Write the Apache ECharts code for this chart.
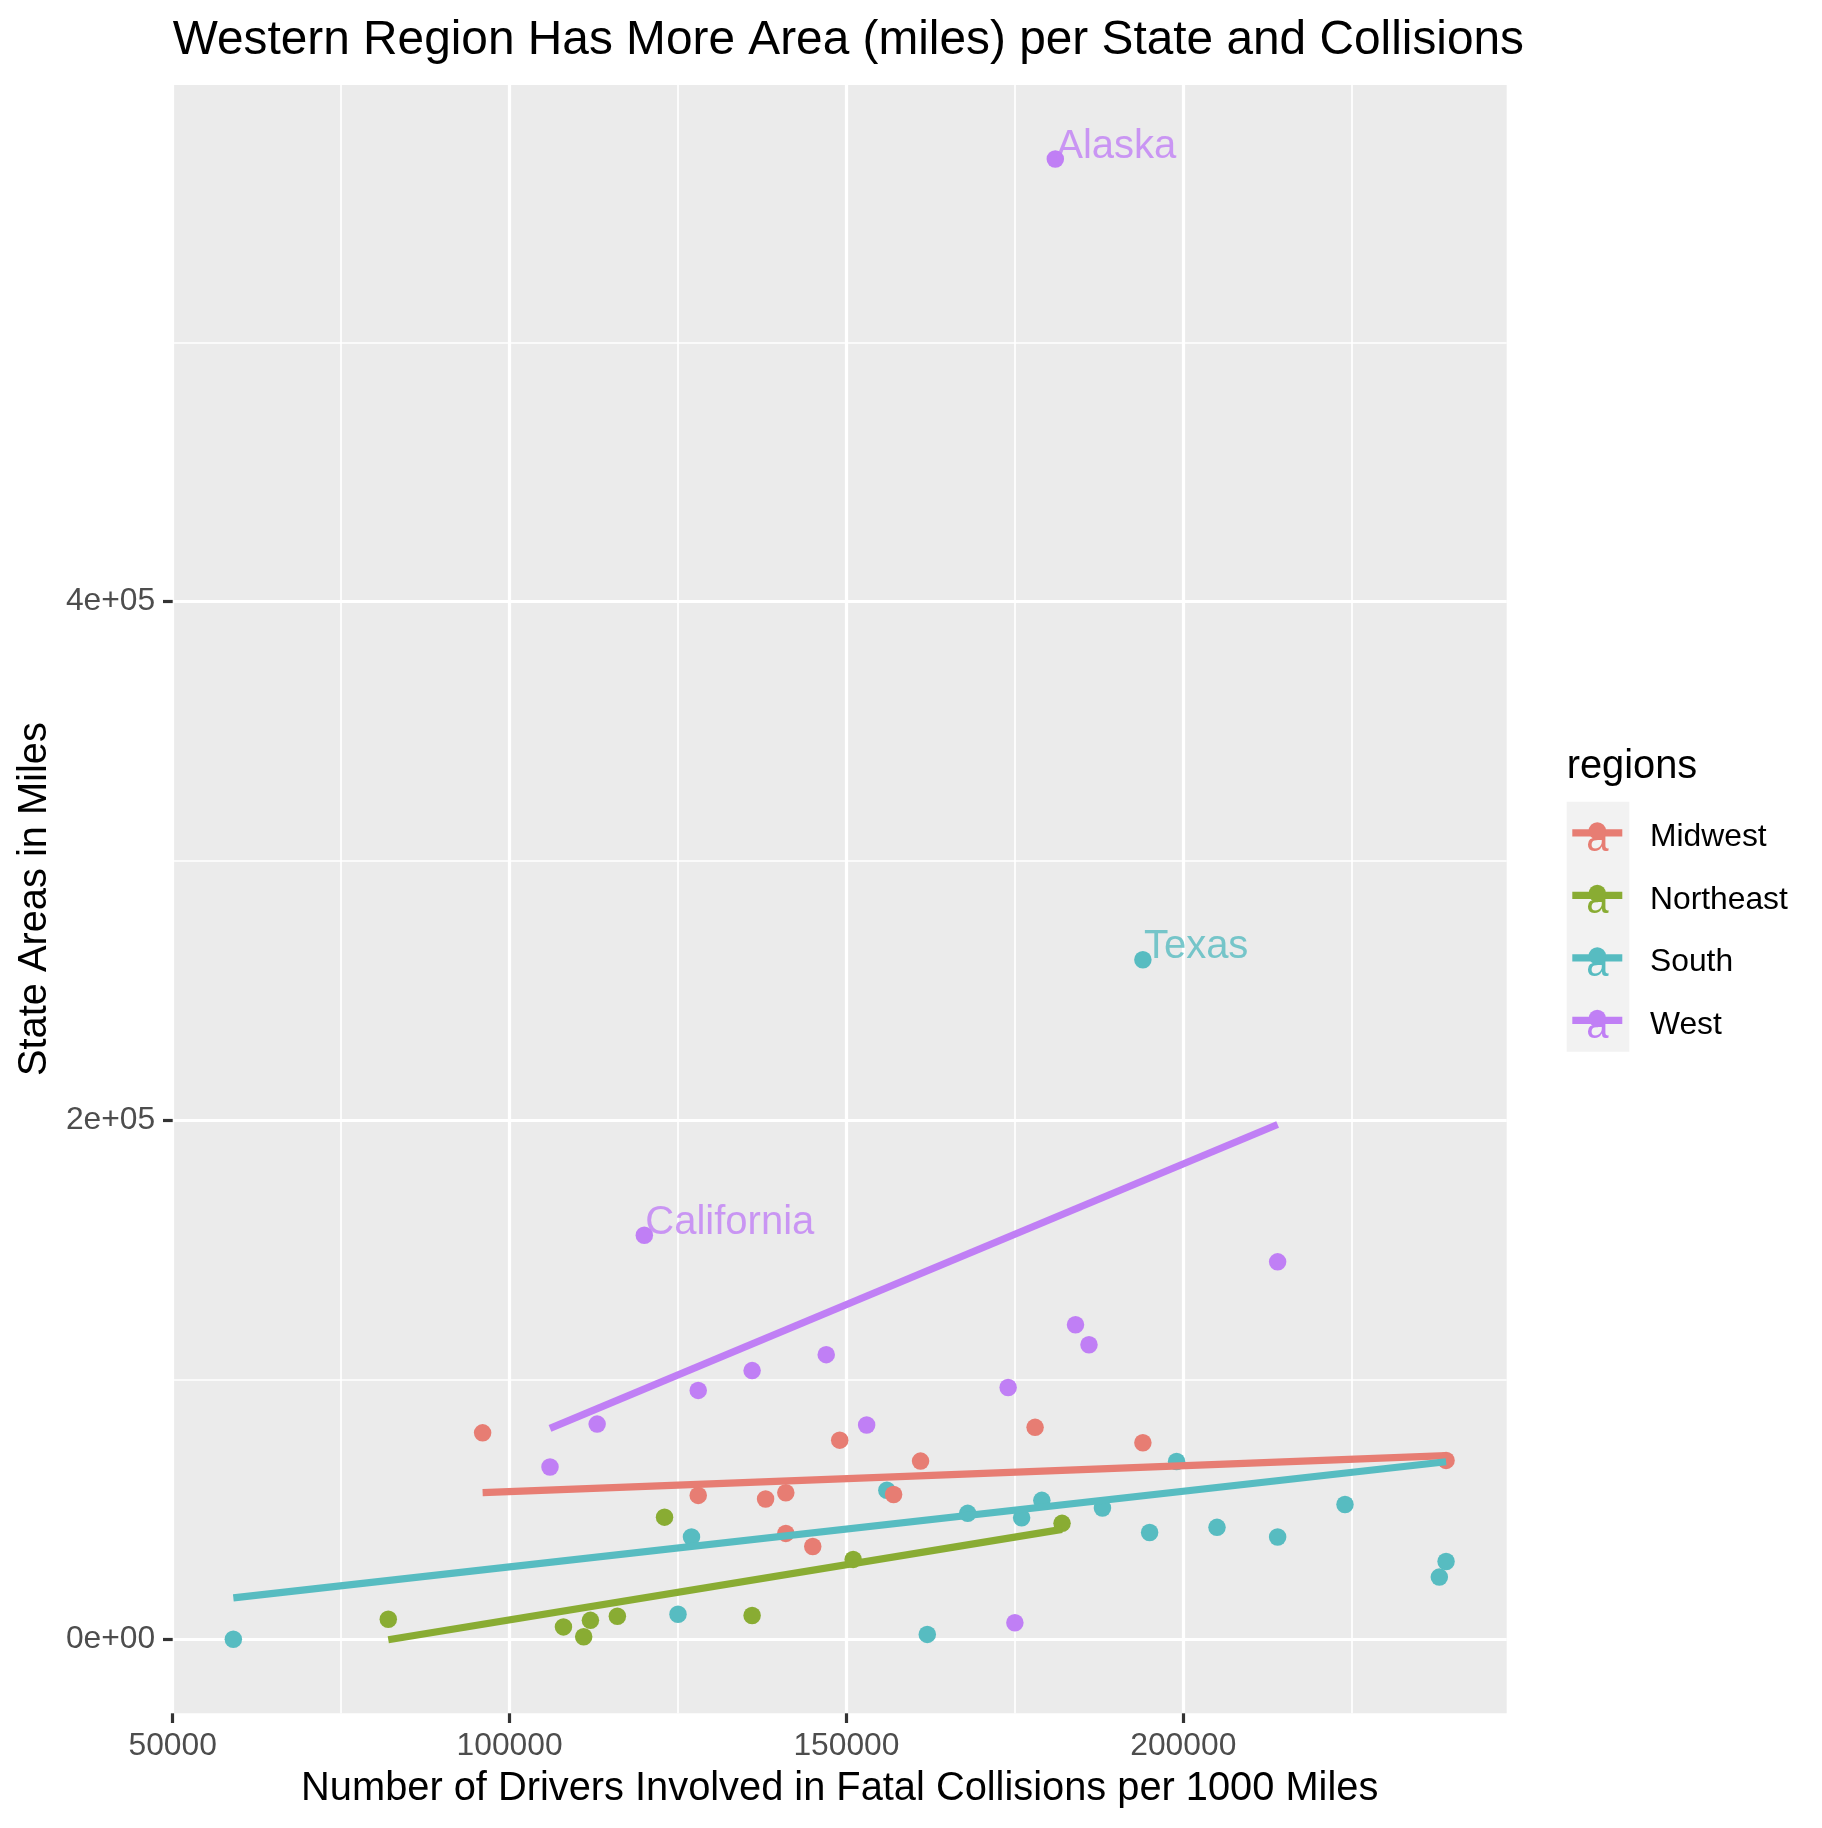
<!DOCTYPE html>
<html>
<head>
<meta charset="utf-8">
<script src="https://cdn.jsdelivr.net/npm/echarts@6.0.0/dist/echarts.min.js"></script>
<style>
html,body{margin:0;padding:0;background:#ffffff;}
#chart{width:1822px;height:1828px;}
</style>
</head>
<body>
<div id="chart"></div>
<script>
// ---------------- DATA ----------------
const states = ['Alabama','Alaska','Arizona','Arkansas','California','Colorado','Connecticut','Delaware','District of Columbia','Florida','Georgia','Hawaii','Idaho','Illinois','Indiana','Iowa','Kansas','Kentucky','Louisiana','Maine','Maryland','Massachusetts','Michigan','Minnesota','Mississippi','Missouri','Montana','Nebraska','Nevada','New Hampshire','New Jersey','New Mexico','New York','North Carolina','North Dakota','Ohio','Oklahoma','Oregon','Pennsylvania','Rhode Island','South Carolina','South Dakota','Tennessee','Texas','Utah','Vermont','Virginia','Washington','West Virginia','Wisconsin','Wyoming'];
const regions = ['South','West','West','South','West','West','Northeast','South','South','South','South','West','West','Midwest','Midwest','Midwest','Midwest','South','South','Northeast','South','Northeast','Midwest','Midwest','South','Midwest','West','Midwest','West','Northeast','Northeast','West','Northeast','South','Midwest','Midwest','South','West','Northeast','Northeast','South','Midwest','South','South','West','Northeast','South','West','South','Midwest','West'];
const drivers = [188000,181000,186000,224000,120000,136000,108000,162000,59000,179000,156000,175000,153000,128000,145000,157000,178000,214000,205000,151000,125000,82000,141000,96000,176000,161000,214000,149000,147000,116000,112000,184000,123000,168000,239000,141000,199000,128000,182000,111000,239000,194000,195000,194000,113000,136000,127000,106000,238000,138000,174000];
const areas = [50645,570641,113594,52035,155779,103642,4842,1949,61,53625,57513,6423,82643,55519,35826,55857,81759,39486,43204,30843,9707,7800,56539,79627,46923,68742,145546,76824,109781,8953,7354,121298,47126,48618,69001,40861,68595,95988,44743,1034,30061,75811,41235,262000,83000,9217,39490,66456,24038,54158,97093];

const regionNames = ['Midwest','Northeast','South','West'];
const regionColors = ['#E77D73','#89AC33','#57BCC1','#C07FF5'];

// fitted (lm) line end points
const smoothMidwest   = [[96000, 56580], [239000, 70890]];
const smoothNortheast = [[82000, -125], [182000, 42440]];
const smoothSouth     = [[59000, 16010], [239000, 68490]];
const smoothWest      = [[106000, 81360], [214000, 198500]];

const labelStates = ['Alaska','Texas','California'];

const xTickValues  = [50000,100000,150000,200000];
const xTickLabels  = ['50000','100000','150000','200000'];
const xMinorValues = [75000,125000,175000,225000];
const yTickValues  = [0,200000,400000];
const yTickLabels  = ['0e+00','2e+05','4e+05'];
const yMinorValues = [100000,300000,500000];

const xRange = [50000, 248000];
const yRange = [-28468, 599170];

const titleText  = 'Western Region Has More Area (miles) per State and Collisions';
const xTitleText = 'Number of Drivers Involved in Fatal Collisions per 1000 Miles';
const yTitleText = 'State Areas in Miles';
const legendTitle = 'regions';

// ---------------- LAYOUT ----------------
const FONT = '"Liberation Sans", Arial, Helvetica, sans-serif';
const GL = 172.7, GT = 85, GW = 1334, GH = 1628.3;
const colorOf = r => regionColors[regionNames.indexOf(r)];

const chart = echarts.init(document.getElementById('chart'), null, {width:1822, height:1828, renderer:'canvas'});

const scatterData = states.map((s, i) => ({
  name: s,
  value: [drivers[i], areas[i]],
  itemStyle: {color: colorOf(regions[i]), opacity: 1}
}));

const smoothSets = [smoothMidwest, smoothNortheast, smoothSouth, smoothWest];
const lineSeries = smoothSets.map((d, k) => ({
  type: 'line',
  name: regionNames[k],
  xAxisIndex: 0, yAxisIndex: 0,
  data: d,
  symbol: 'none',
  silent: true,
  lineStyle: {color: regionColors[k], width: 7.2, cap: 'butt'},
  z: 3
}));

const labelSeries = {
  type: 'scatter',
  xAxisIndex: 0, yAxisIndex: 0,
  silent: true,
  symbolSize: 1,
  itemStyle: {color: 'rgba(0,0,0,0)'},
  z: 4,
  data: labelStates.map(s => {
    const i = states.indexOf(s);
    return {
      name: s,
      value: [drivers[i], areas[i]],
      label: {color: colorOf(regions[i])}
    };
  }),
  label: {
    show: true,
    formatter: '{b}',
    position: [0, 0],
    align: 'left',
    verticalAlign: 'bottom',
    offset: [1.5, 8],
    fontSize: 40,
    lineHeight: 40,
    fontFamily: FONT
  }
};

// legend drawn as graphic elements
const legendGraphics = [];
legendGraphics.push({type:'text', x:1566.7, y:767.5, style:{text:legendTitle, fontSize:39.8, fontFamily:FONT, fill:'#000', align:'left', verticalAlign:'middle'}});
legendGraphics.push({type:'rect', shape:{x:1566.7, y:801.7, width:62.6, height:250}, style:{fill:'#F2F2F2'}});
regionNames.forEach((name, k) => {
  const cy = 801.7 + 62.5 * k + 31.25;
  const c = regionColors[k];
  legendGraphics.push({type:'text', x:1597.3, y:cy + 7, style:{text:'a', fontSize:40, fontFamily:FONT, fill:c, align:'center', verticalAlign:'middle'}});
  legendGraphics.push({type:'line', shape:{x1:1572.3, y1:cy, x2:1622.3, y2:cy}, style:{stroke:c, lineWidth:7.2}});
  legendGraphics.push({type:'circle', shape:{cx:1597.3, cy:cy - 2, r:8.7}, style:{fill:c}});
  legendGraphics.push({type:'text', x:1650, y:cy + 4.5, style:{text:name, fontSize:31.8, fontFamily:FONT, fill:'#000', align:'left', verticalAlign:'middle'}});
});

const option = {
  animation: false,
  backgroundColor: '#ffffff',
  grid: {left: GL, top: GT, width: GW, height: GH, show: true, backgroundColor: '#EBEBEB', borderWidth: 0, containLabel: false, outerBoundsMode: 'none'},
  xAxis: [
    {
      type: 'value', min: xRange[0], max: xRange[1], z: 1, position: 'bottom',
      axisLine: {show: false, onZero: false},
      axisTick: {show: true, length: 9.7, customValues: xTickValues, lineStyle: {color: '#333333', width: 3.2}},
      axisLabel: {show: true, customValues: xTickValues, formatter: v => xTickLabels[xTickValues.indexOf(v)],
        color: '#4D4D4D', fontSize: 31.8, lineHeight: 31.8, fontFamily: FONT, margin: 17.5},
      splitLine: {show: true, lineStyle: {color: '#FFFFFF', width: 3.2}}
    },
    {
      type: 'value', min: xRange[0], max: xRange[1], z: 0, position: 'bottom',
      axisLine: {show: false, onZero: false},
      axisTick: {show: false, customValues: xMinorValues},
      axisLabel: {show: false},
      splitLine: {show: true, lineStyle: {color: '#FFFFFF', width: 1.7}}
    }
  ],
  yAxis: [
    {
      type: 'value', min: yRange[0], max: yRange[1], z: 1, position: 'left',
      axisLine: {show: false, onZero: false},
      axisTick: {show: true, length: 9.7, customValues: yTickValues, lineStyle: {color: '#333333', width: 3.2}},
      axisLabel: {show: true, customValues: yTickValues, formatter: v => yTickLabels[yTickValues.indexOf(v)],
        color: '#4D4D4D', fontSize: 31.8, lineHeight: 31.8, fontFamily: FONT, margin: 17.5},
      splitLine: {show: true, lineStyle: {color: '#FFFFFF', width: 3.2}}
    },
    {
      type: 'value', min: yRange[0], max: yRange[1], z: 0, position: 'left',
      axisLine: {show: false, onZero: false},
      axisTick: {show: false, customValues: yMinorValues},
      axisLabel: {show: false},
      splitLine: {show: true, lineStyle: {color: '#FFFFFF', width: 1.7}}
    }
  ],
  graphic: [
    {type:'text', x: GL, y: 41, style:{text: titleText, fontSize: 47.8, fontFamily: FONT, fill:'#000', align:'left', verticalAlign:'middle'}},
    {type:'text', x: GL + GW / 2, y: 1789.5, style:{text: xTitleText, fontSize: 39.8, fontFamily: FONT, fill:'#000', align:'center', verticalAlign:'middle'}},
    {type:'text', x: 35.5, y: GT + GH / 2, rotation: Math.PI / 2, style:{text: yTitleText, fontSize: 39.8, fontFamily: FONT, fill:'#000', align:'center', verticalAlign:'middle'}}
  ].concat(legendGraphics),
  series: [
    {
      type: 'scatter', xAxisIndex: 0, yAxisIndex: 0,
      symbol: 'circle', symbolSize: 17.5, silent: true, z: 2,
      itemStyle: {opacity: 1},
      data: scatterData
    }
  ].concat(lineSeries).concat([labelSeries])
};

chart.setOption(option);
</script>
</body>
</html>
